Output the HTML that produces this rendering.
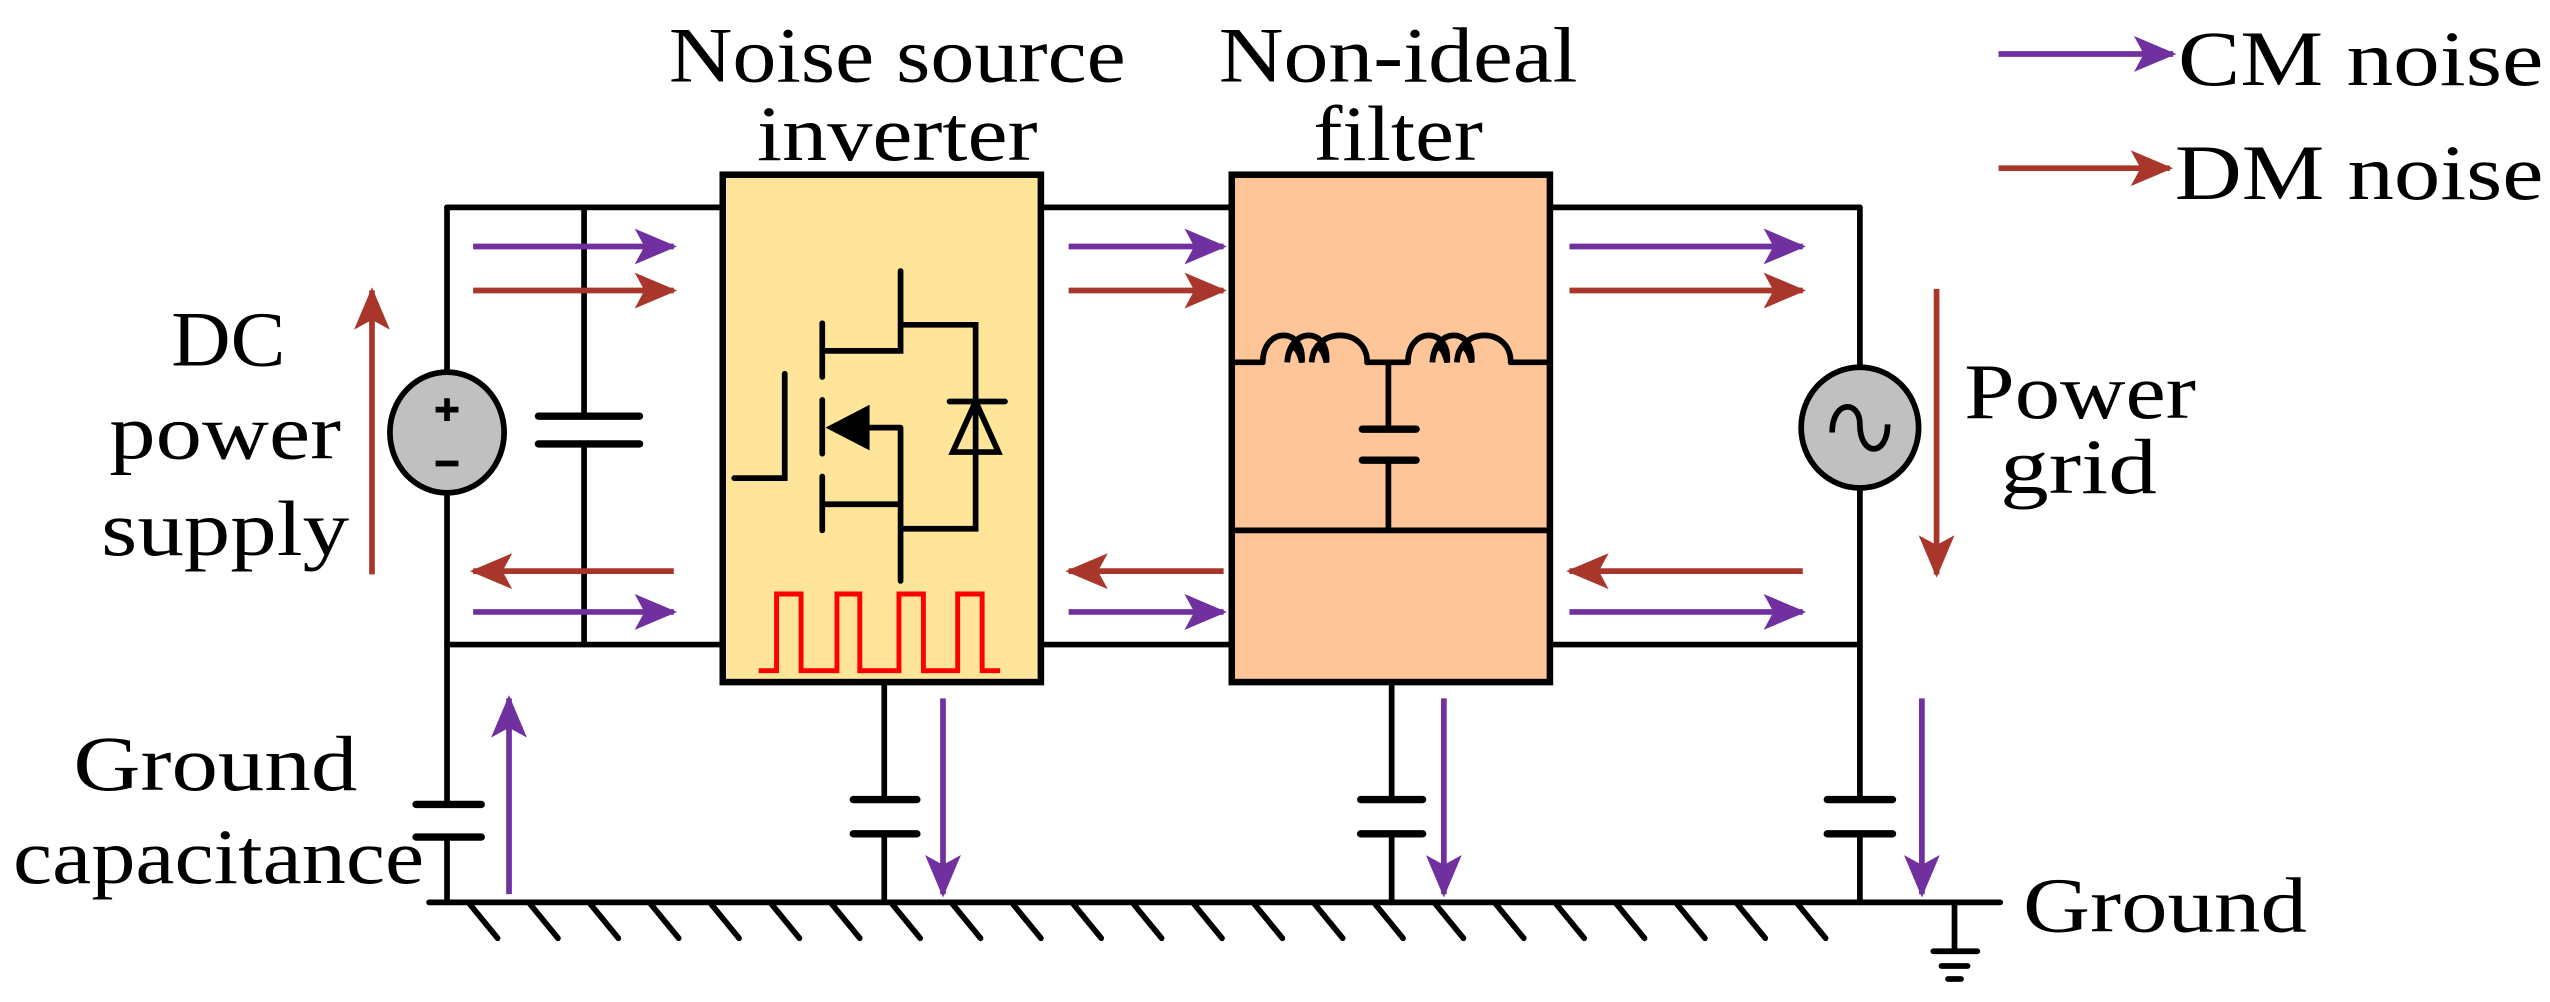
<!DOCTYPE html>
<html><head><meta charset="utf-8"><style>
html,body{margin:0;padding:0;background:#fff;}
svg{display:block;}
</style></head><body>
<svg width="2550" height="1002" viewBox="0 0 1563 614" xmlns="http://www.w3.org/2000/svg">
<defs>
<marker id="hp" viewBox="0 0 26 22" refX="24" refY="11" markerWidth="26" markerHeight="22" markerUnits="userSpaceOnUse" orient="auto">
<path d="M0,0 L26,11 L0,22 L6,11 Z" fill="#7030A0"/></marker>
<marker id="hr" viewBox="0 0 26 22" refX="24" refY="11" markerWidth="26" markerHeight="22" markerUnits="userSpaceOnUse" orient="auto">
<path d="M0,0 L26,11 L0,22 L6,11 Z" fill="#A9362A"/></marker>
</defs>
<g stroke="#000" stroke-width="3.5" fill="none" stroke-linecap="round">
<path d="M274,127 H443 M638,127 H755 M950,127 H1140 M274,395 H443 M638,395 H755 M950,395 H1140"/>
<path d="M274,127 V553 M1140,127 V553 M358,127 V395"/>
<path d="M542,418 V553 M853,418 V553"/>
<path d="M263,553 H1226"/>
<path d="M287,553 l18,22 M324,553 l18,22 M361,553 l18,22 M398,553 l18,22 M435,553 l18,22 M472,553 l18,22 M509,553 l18,22 M546,553 l18,22 M583,553 l18,22 M620,553 l18,22 M657,553 l18,22 M694,553 l18,22 M731,553 l18,22 M768,553 l18,22 M805,553 l18,22 M842,553 l18,22 M879,553 l18,22 M916,553 l18,22 M953,553 l18,22 M990,553 l18,22 M1027,553 l18,22 M1064,553 l18,22 M1101,553 l18,22"/>
<path d="M1198,553 V583 M1185,583 H1212 M1190,592 H1206 M1194,600 H1202" stroke-width="3.5"/>
</g>
<g stroke="#000" stroke-width="4.5" stroke-linecap="round">
<rect x="325" y="257" width="70" height="14" fill="#fff" stroke="none"/>
<path d="M330,255 H392 M330,272 H392"/>
<rect x="250" y="494" width="50" height="18" fill="#fff" stroke="none"/>
<path d="M255,493 H295 M255,513 H295"/>
<rect x="520" y="491" width="45" height="19" fill="#fff" stroke="none"/>
<path d="M523,490 H562 M523,511 H562"/>
<rect x="830" y="491" width="45" height="19" fill="#fff" stroke="none"/>
<path d="M834,490 H872 M834,511 H872"/>
<rect x="1115" y="491" width="50" height="19" fill="#fff" stroke="none"/>
<path d="M1120,490 H1160 M1120,511 H1160"/>
</g>
<ellipse cx="274" cy="265" rx="35" ry="37" fill="#C0C0C0" stroke="#000" stroke-width="3.5"/>
<path d="M274,244 V258 M267,251 H281 M267,284 H281" stroke="#000" stroke-width="3.5"/>
<ellipse cx="1140" cy="262" rx="36" ry="37" fill="#C0C0C0" stroke="#000" stroke-width="3.5"/>
<path d="M1123,265 C1123,245 1140,245 1140,260 C1140,280 1157,280 1157,260" fill="none" stroke="#000" stroke-width="3.5"/>
<rect x="443" y="107" width="195" height="311" fill="#FEE599" stroke="#000" stroke-width="4"/>
<g stroke="#000" stroke-width="3.5" fill="none" stroke-linecap="round">
<path d="M481,229 V293 H450"/>
<path d="M504,198 V231 M504,245 V278 M504,292 V325"/>
<path d="M504,215 H552 V166 M552,199 H598 V324 H552 M552,262 V356 M533,262 H552 M504,309 H552"/>
<path d="M582,246 H616"/>
<path d="M598,246 L584,277 H612 Z"/>
</g>
<path d="M506,262 L533,248 L533,276 Z" fill="#000"/>
<path d="M465,411 H476 V364 H491 V411 H513 V364 H527 V411 H551 V364 H566 V411 H587 V364 H602 V411 H613" fill="none" stroke="#FF0000" stroke-width="3"/>
<rect x="755" y="107" width="195" height="311" fill="#FDC598" stroke="#000" stroke-width="4"/>
<g stroke="#000" stroke-width="3.5" fill="none" stroke-linecap="round">
<path d="M755,325 H950"/>
<path d="M755,222 H774 M838,222 H863 M926,222 H950 M851,222 V325"/>
<path d="M774,222 C774,200 800,200 798,222 C795,210 790,210 789,222 C790,200 815,200 813,222 C810,210 805,210 804,222 C805,200 838,200 838,222"/>
<path d="M863,222 C863,200 889,200 887,222 C884,210 879,210 878,222 C879,200 904,200 902,222 C899,210 894,210 893,222 C894,200 926,200 926,222"/>
</g>
<rect x="830" y="265" width="45" height="16" fill="#FDC598"/>
<path d="M835,263 H868 M835,282 H868" stroke="#000" stroke-width="4.5" stroke-linecap="round"/>
<g stroke-width="3.5" fill="none">
<g stroke="#7030A0" marker-end="url(#hp)">
<path d="M290,151 H413"/><path d="M290,375 H413"/>
<path d="M655,151 H750"/><path d="M655,375 H750"/>
<path d="M962,151 H1105"/><path d="M962,375 H1105"/>
<path d="M312,548 V428"/>
<path d="M578,428 V548"/><path d="M885,428 V548"/><path d="M1178,428 V548"/>
<path d="M1225,33 H1332"/>
</g>
<g stroke="#A9362A" marker-end="url(#hr)">
<path d="M290,178 H413"/><path d="M413,350 H290"/>
<path d="M655,178 H750"/><path d="M750,350 H655"/>
<path d="M962,178 H1105"/><path d="M1105,350 H962"/>
<path d="M228,352 V178"/>
<path d="M1187,177 V352"/>
<path d="M1225,103 H1330"/>
</g>
</g>
<g font-size="48" font-family="Liberation Serif, serif" fill="#000">
<text x="550" y="50" text-anchor="middle" textLength="280" lengthAdjust="spacingAndGlyphs">Noise source</text>
<text x="550" y="98" text-anchor="middle" textLength="172" lengthAdjust="spacingAndGlyphs">inverter</text>
<text x="857" y="50" text-anchor="middle" textLength="220" lengthAdjust="spacingAndGlyphs">Non-ideal</text>
<text x="857" y="98" text-anchor="middle" textLength="104" lengthAdjust="spacingAndGlyphs">filter</text>
<text x="140" y="224" text-anchor="middle" textLength="70" lengthAdjust="spacingAndGlyphs">DC</text>
<text x="138" y="281" text-anchor="middle" textLength="142" lengthAdjust="spacingAndGlyphs">power</text>
<text x="138" y="340" text-anchor="middle" textLength="152" lengthAdjust="spacingAndGlyphs">supply</text>
<text x="132" y="484" text-anchor="middle" textLength="174" lengthAdjust="spacingAndGlyphs">Ground</text>
<text x="8" y="541" textLength="252" lengthAdjust="spacingAndGlyphs">capacitance</text>
<text x="1204" y="256" textLength="142" lengthAdjust="spacingAndGlyphs">Power</text>
<text x="1226" y="302" textLength="96" lengthAdjust="spacingAndGlyphs">grid</text>
<text x="1240" y="571" textLength="174" lengthAdjust="spacingAndGlyphs">Ground</text>
<text x="1335" y="52" textLength="224" lengthAdjust="spacingAndGlyphs">CM noise</text>
<text x="1333" y="122" textLength="226" lengthAdjust="spacingAndGlyphs">DM noise</text>
</g>
</svg>
</body></html>
